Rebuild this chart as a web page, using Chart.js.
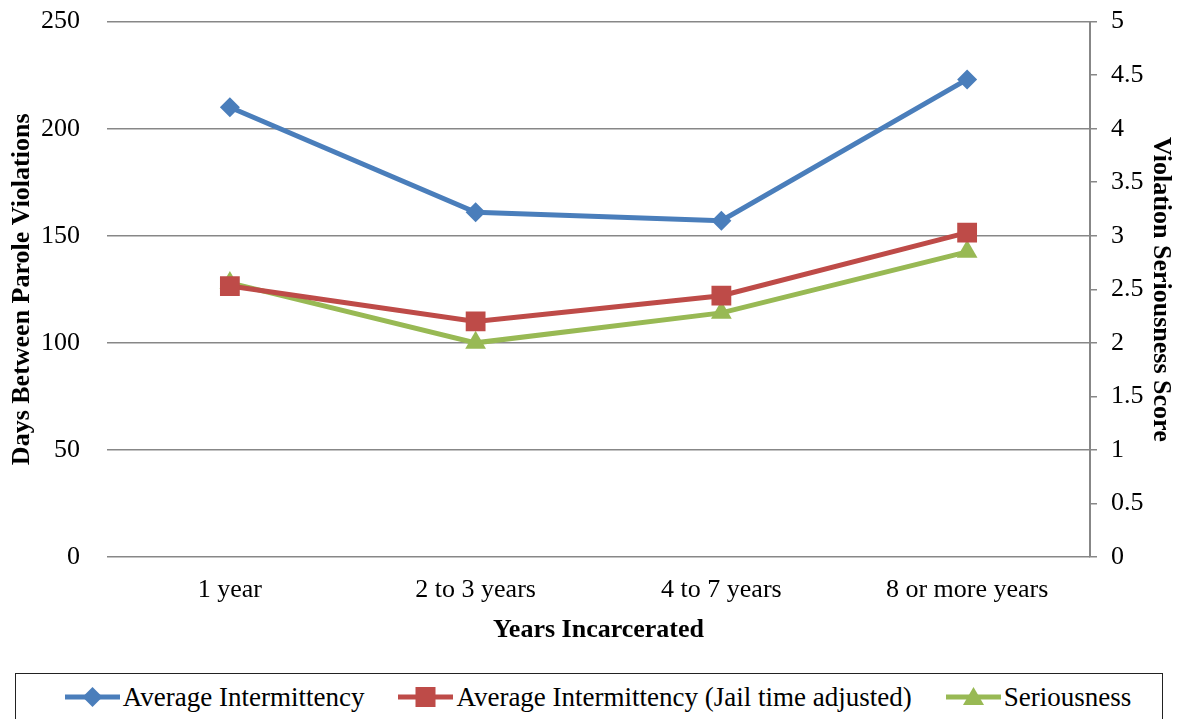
<!DOCTYPE html>
<html>
<head>
<meta charset="utf-8">
<script src="https://cdn.jsdelivr.net/npm/chart.js@4"></script>
<style>
  body { margin: 0; background: #fff; font-family: 'Liberation Serif', 'Times New Roman', serif; overflow: hidden; }
  #wrap { position: absolute; left: 0; top: -21px; width: 1182px; height: 671px; }
  #legend {
    position: absolute; left: 15px; top: 673px; width: 1148px; height: 60px;
    border: 1.5px solid #222; box-sizing: border-box;
    display: flex; justify-content: center; gap: 34px; padding-top: 8px; padding-left: 18px;
    font-size: 27px; color: #000;
  }
  .item { display: flex; align-items: center; height: 30px; }
  .item svg { margin-right: 2px; }
</style>
</head>
<body>
<div id="wrap"><canvas id="chart"></canvas></div>
<div id="legend"></div>
<script>
// categorias e séries
const categories = ['1 year', '2 to 3 years', '4 to 7 years', '8 or more years'];
const avgIntermittency = [210, 161, 157, 223];
const avgJailAdjusted = [126.5, 110, 122, 151.5];
const seriousness = [2.56, 2.0, 2.28, 2.85];

const seriesNames = ['Average Intermittency', 'Average Intermittency (Jail time adjusted)', 'Seriousness'];
const seriesColors = ['#4A7EBB', '#BE4B48', '#98B954'];

const gridGray = '#878787';
const tickFont = { family: "'Liberation Serif', serif", size: 26 };
const titleFont = { family: "'Liberation Serif', serif", size: 26, weight: 'bold' };

new Chart(document.getElementById('chart'), {
  type: 'line',
  data: {
    labels: categories,
    datasets: [
      {
        label: seriesNames[0], data: avgIntermittency, yAxisID: 'y',
        borderColor: seriesColors[0], backgroundColor: seriesColors[0],
        borderWidth: 5, pointStyle: 'rectRot', pointRadius: 10, pointBorderWidth: 0
      },
      {
        label: seriesNames[1], data: avgJailAdjusted, yAxisID: 'y',
        borderColor: seriesColors[1], backgroundColor: seriesColors[1],
        borderWidth: 5, pointStyle: 'rect', pointRadius: 14, pointBorderWidth: 0
      },
      {
        label: seriesNames[2], data: seriousness, yAxisID: 'y2',
        borderColor: seriesColors[2], backgroundColor: seriesColors[2],
        borderWidth: 5, pointStyle: 'triangle', pointRadius: 12, pointBorderWidth: 0
      }
    ]
  },
  options: {
    responsive: true,
    maintainAspectRatio: false,
    animation: false,
    layout: { padding: { top: 1, left: 0, right: 0, bottom: 0 } },
    plugins: { legend: { display: false }, tooltip: { enabled: false } },
    scales: {
      x: {
        offset: true,
        grid: { display: false },
        border: { display: false },
        ticks: { font: tickFont, color: '#000', padding: 10, maxRotation: 0 },
        title: { display: true, text: 'Years Incarcerated', font: titleFont, color: '#000', padding: { top: 9 } },
        afterFit: s => { s.height = 93; }
      },
      y: {
        position: 'left',
        min: 0, max: 250,
        ticks: { stepSize: 50, font: tickFont, color: '#000', padding: 27 },
        grid: { color: gridGray, lineWidth: 1.5, drawTicks: false },
        border: { display: false },
        title: { display: true, text: 'Days Between Parole Violations', font: titleFont, color: '#000', padding: { top: 7 } },
        afterFit: s => { s.width = 107; }
      },
      y2: {
        position: 'right',
        min: 0, max: 5,
        ticks: { stepSize: 0.5, font: tickFont, color: '#000', padding: 14, callback: v => String(v) },
        grid: { drawOnChartArea: false, color: gridGray, lineWidth: 1.5, tickLength: 7 },
        border: { display: true, color: gridGray, width: 2 },
        title: { display: true, text: 'Violation Seriousness Score', font: titleFont, color: '#000', padding: { top: 6 } },
        afterFit: s => { s.width = 92; }
      }
    }
  }
});

// legenda em HTML (linha + marcador)
const markers = [
  '<polygon points="27.5,5 37.5,15 27.5,25 17.5,15" />',
  '<rect x="17.5" y="5" width="20" height="20" />',
  '<polygon points="27.5,5 38,23 17,23" />'
];
const legend = document.getElementById('legend');
seriesNames.forEach((name, i) => {
  const c = seriesColors[i];
  const item = document.createElement('div');
  item.className = 'item';
  item.innerHTML = `<svg width="56" height="30"><line x1="0" y1="15" x2="55" y2="15" stroke="${c}" stroke-width="5"/><g fill="${c}">${markers[i]}</g></svg><span>${name}</span>`;
  legend.appendChild(item);
});
</script>
</body>
</html>
